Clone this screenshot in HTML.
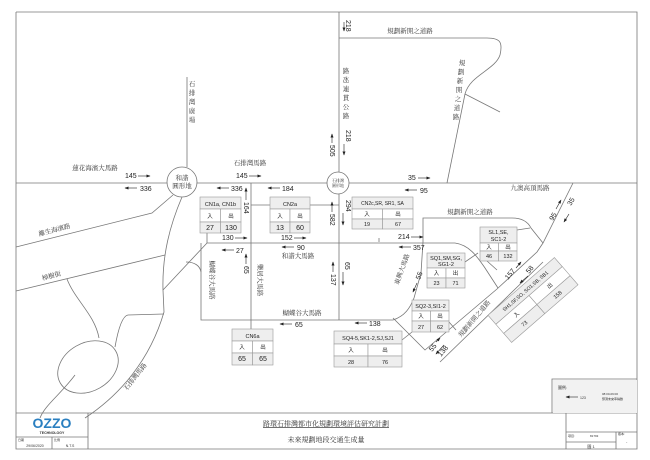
<!DOCTYPE html>
<html><head><meta charset="utf-8"><style>
body{margin:0;background:#fff;}
svg{display:block;font-family:"Liberation Sans","Noto Sans CJK TC",sans-serif;}
.r{stroke:#777;stroke-width:0.8;fill:none;}
.t{stroke:#999;stroke-width:0.6;fill:#fff;}
.h{fill:#eee;stroke:#999;stroke-width:0.6;}
.n{font-size:7px;fill:#222;}
.c{font-family:"Liberation Serif","Noto Serif CJK SC",serif;font-size:6.5px;fill:#333;}
.s{font-size:5.5px;fill:#222;}
.a{stroke:#222;stroke-width:0.6;marker-end:url(#ah);}
</style></head><body>
<svg width="650" height="460" viewBox="0 0 650 460">
<defs><marker id="ah" markerWidth="4" markerHeight="4" refX="3.5" refY="2" orient="auto" markerUnits="userSpaceOnUse"><path d="M0,0.5 L4,2 L0,3.5z" fill="#222"/></marker></defs>
<rect width="650" height="460" fill="#fff"/>
<!-- frame -->
<path class="r" d="M16,12 H637 V413 M16,12 V449 H637 V413 M16,413 H637" stroke="#888"/>
<!-- roads -->
<path class="r" d="M16,183 H167 M197,183 H327 M349,183 H637"/>
<circle class="r" cx="182" cy="182" r="15"/>
<circle class="r" cx="338" cy="183" r="11"/>
<path class="r" d="M187,77 V167"/>
<path class="r" d="M339,12 V172 M339,38 H487 C500,38 503,42 500,55 C495,70 470,75 465,94 L447,183 M465,94 L500,112"/>
<path class="r" d="M173,195 L152,213 L16,247"/>
<path class="r" d="M16,291 L165,255"/>
<path class="r" d="M182,197 C170,225 162,255 163,290 L164,312 C150,360 120,395 85,418"/>
<path class="r" d="M163,290 L207,243 H455"/>
<path class="r" d="M186,262 C195,262 200,266 201,272"/>
<path class="r" d="M201,243 V320 H393 C405,316 410,308 414,298 L421,273 L423,242 V218 H512 C522,218 528,222 531,228 L543,243"/>
<path class="r" d="M251,183 V330 M339,194 V320"/>
<path class="r" d="M207,243 V233 M251,205 H270 M310,205 H339"/>
<path class="r" d="M455,243 C470,245 478,258 485,268 L498,288"/>
<path class="r" d="M573,183 L543,243 L537,252 L497,289 L425,350 L393,318"/>
<path class="r" d="M543,262 L440,362"/>
<path class="r" d="M465,262 L478,253 M487,261 L497,270 M517,230 L530,228 M402,340 L412,332 M449,322 L456,330 M379,242 V238"/>
<path class="r" d="M67,279 C75,300 95,315 99,338 M115,347 C118,330 122,316 128,315 L164,314 M75,375 C60,395 45,405 40,418"/>
<ellipse class="r" cx="88" cy="367" rx="32" ry="24" transform="rotate(-30 88 367)"/>
<path class="r" d="M552,413 V379 H637"/>
<rect x="553" y="380" width="84" height="33" fill="#f2f2f2"/>
<!-- title block -->
<path class="r" d="M88,413 V449 M16,437 H88 M52,437 V449 M566,413 V449 M566,432 H637 M616,432 V449 M566,442 H616" stroke="#888"/>
<text x="52" y="428" text-anchor="middle" font-size="14" font-weight="bold" fill="#2a7fc0">OZZO</text>
<text x="52" y="434" text-anchor="middle" font-size="3.5" font-weight="bold" fill="#333">TECHNOLOGY</text>
<text x="18" y="441" font-size="3" fill="#333">日期</text><text x="54" y="441" font-size="3" fill="#333">比例</text>
<text x="35" y="447" text-anchor="middle" font-size="3.5" fill="#333">29/06/2020</text>
<text x="70" y="447" text-anchor="middle" font-size="3.5" fill="#333">N.T.S</text>
<text x="326" y="426" text-anchor="middle" class="c" style="font-size:7px;text-decoration:underline">路環石排灣都市化規劃環境評估研究計劃</text>
<text x="326" y="442" text-anchor="middle" class="c" style="font-size:7px">未來規劃地段交通生成量</text>
<text x="568" y="437" font-size="3" fill="#333">項目:</text><text x="590" y="437" font-size="3" fill="#333">81793</text>
<text x="618" y="435" font-size="3" fill="#333">版本:</text><text x="626" y="443" font-size="4" fill="#333">-</text>
<text x="591" y="448" text-anchor="middle" font-size="4" fill="#333">圖 1</text>
<text x="558" y="389" font-size="4" fill="#333">圖例:</text>
<line x1="578" y1="397" x2="566" y2="397" class="a"/><text x="580" y="399" font-size="3.5" fill="#333">123</text>
<text x="602" y="395" font-size="3" fill="#333">08:00-09:00</text><text x="602" y="400" font-size="3" fill="#333">預測未來車輛數</text>
<!-- road labels -->
<text x="95" y="170" text-anchor="middle" class="c">蓮花海濱大馬路</text>
<text x="250" y="165" text-anchor="middle" class="c">石排灣馬路</text>
<text x="55" y="232" text-anchor="middle" class="c" transform="rotate(-15 55 232)">離生海濱路</text>
<text x="52" y="278" text-anchor="middle" class="c" transform="rotate(-15 52 278)">樟樹街</text>
<text x="137" y="378" text-anchor="middle" class="c" transform="rotate(-52 137 378)">石排灣馬路</text>
<text x="298" y="258" text-anchor="middle" class="c">和諧大馬路</text>
<text x="302" y="315" text-anchor="middle" class="c">蝴蝶谷大馬路</text>
<text x="210" y="280" text-anchor="middle" class="c" transform="rotate(90 210 280)">蝴蝶谷大馬路</text>
<text x="258" y="280" text-anchor="middle" class="c" transform="rotate(90 258 280)">樂居大馬路</text>
<text x="410" y="33" text-anchor="middle" class="c">規劃新開之道路</text>
<text x="530" y="190" text-anchor="middle" class="c">九澳高頂馬路</text>
<text x="470" y="214" text-anchor="middle" class="c">規劃新開之道路</text>
<text x="404" y="270" text-anchor="middle" class="c" transform="rotate(-70 404 270)">東興大馬路</text>
<text x="476" y="320" text-anchor="middle" class="c" transform="rotate(-50 476 320)">規劃新開之道路</text>
<g class="c" text-anchor="middle">
<text x="192" y="86">石</text><text x="192" y="95">排</text><text x="192" y="104">灣</text><text x="192" y="113">廣</text><text x="192" y="122">場</text>
<text x="346" y="73">路</text><text x="346" y="82">氹</text><text x="346" y="91">連</text><text x="346" y="100">貫</text><text x="346" y="109">公</text><text x="346" y="118">路</text>
<text x="462" y="65">規</text><text x="461" y="74">劃</text><text x="460" y="83">新</text><text x="459" y="92">開</text><text x="458" y="101">之</text><text x="457" y="110">道</text><text x="456" y="119">路</text>
</g>
<text x="182" y="180" text-anchor="middle" class="c">和諧</text>
<text x="182" y="188" text-anchor="middle" class="c">圓形地</text>
<text x="338" y="182" text-anchor="middle" class="c" style="font-size:4px">石排灣</text>
<text x="338" y="187" text-anchor="middle" class="c" style="font-size:4px">圓形地</text>
<!-- flows -->
<g class="n">
<text x="125" y="178">145</text><line class="a" x1="138" y1="176" x2="150" y2="176"/>
<line class="a" x1="137" y1="188" x2="125" y2="188"/><text x="140" y="191">336</text>
<text x="236" y="178">145</text><line class="a" x1="249" y1="176" x2="261" y2="176"/>
<line class="a" x1="229" y1="188" x2="217" y2="188"/><text x="231" y="191">336</text>
<line class="a" x1="280" y1="188" x2="268" y2="188"/><text x="282" y="191">184</text>
<text x="222" y="240">130</text><line class="a" x1="235" y1="238" x2="247" y2="238"/>
<line class="a" x1="234" y1="250" x2="222" y2="250"/><text x="236" y="253">27</text>
<text x="281" y="240">152</text><line class="a" x1="294" y1="238" x2="306" y2="238"/>
<line class="a" x1="294" y1="247" x2="282" y2="247"/><text x="297" y="250">90</text>
<line class="a" x1="292" y1="324" x2="280" y2="324"/><text x="295" y="327">65</text>
<text x="398" y="239">214</text><line class="a" x1="411" y1="237" x2="423" y2="237"/>
<line class="a" x1="411" y1="247" x2="399" y2="247"/><text x="413" y="250">357</text>
<text x="408" y="180">35</text><line class="a" x1="418" y1="178" x2="430" y2="178"/>
<line class="a" x1="417" y1="190" x2="405" y2="190"/><text x="420" y="193">95</text>
<line class="a" x1="367" y1="323" x2="355" y2="323"/><text x="369" y="326">138</text>
<line class="a" x1="246" y1="200" x2="246" y2="188"/><text transform="translate(244,202) rotate(90)">164</text>
<line class="a" x1="246" y1="264" x2="246" y2="254"/><text transform="translate(244,266) rotate(90)">65</text>
<line class="a" x1="344" y1="22" x2="344" y2="31"/><text transform="translate(346,20) rotate(90)">218</text>
<text transform="translate(346,130) rotate(90)">218</text><line class="a" x1="344" y1="144" x2="344" y2="155"/>
<line class="a" x1="332" y1="143" x2="332" y2="134"/><text transform="translate(330,145) rotate(90)">505</text>
<text transform="translate(346,200) rotate(90)">294</text><line class="a" x1="343" y1="213" x2="343" y2="225"/>
<line class="a" x1="332" y1="212" x2="332" y2="202"/><text transform="translate(330,214) rotate(90)">582</text>
<text transform="translate(345,262) rotate(90)">65</text><line class="a" x1="343" y1="272" x2="343" y2="285"/>
<line class="a" x1="333" y1="272" x2="333" y2="262"/><text transform="translate(331,274) rotate(90)">137</text>
<text transform="translate(420,280) rotate(-70)">55</text><line class="a" x1="417" y1="283" x2="413" y2="292"/>
<text transform="translate(432,352) rotate(-50)">55</text><line class="a" x1="436" y1="342" x2="440" y2="338"/>
<text transform="translate(441,357) rotate(-50)">138</text><line class="a" x1="444" y1="345" x2="436" y2="354"/>
<text transform="translate(508,280) rotate(-50)">157</text><line class="a" x1="516" y1="268" x2="521" y2="262"/>
<line class="a" x1="528" y1="276" x2="520" y2="283"/><text transform="translate(529,274) rotate(-50)">58</text>
<text transform="translate(553,221) rotate(-60)">95</text><line class="a" x1="556" y1="209" x2="561" y2="200"/>
<text transform="translate(571,206) rotate(-60)">35</text><line class="a" x1="569" y1="214" x2="564" y2="222"/>
</g>
<!-- tables -->
<g>
<rect class="h" x="200" y="197" width="41" height="12"/><text x="220.5" y="206" text-anchor="middle" class="s">CN1a, CN1b</text>
<rect class="t" x="200" y="209" width="20.5" height="13"/><rect class="t" x="220.5" y="209" width="20.5" height="13"/>
<rect class="h" x="200" y="222" width="20.5" height="11"/><rect class="h" x="220.5" y="222" width="20.5" height="11"/>
<text x="210" y="218" text-anchor="middle" class="s">入</text><text x="231" y="218" text-anchor="middle" class="s">出</text>
<text x="210" y="230" text-anchor="middle" class="n">27</text><text x="231" y="230" text-anchor="middle" class="n">130</text>

<rect class="h" x="270" y="197" width="40" height="12"/><text x="290" y="206" text-anchor="middle" class="s">CN2a</text>
<rect class="t" x="270" y="209" width="20" height="13"/><rect class="t" x="290" y="209" width="20" height="13"/>
<rect class="h" x="270" y="222" width="20" height="11"/><rect class="h" x="290" y="222" width="20" height="11"/>
<text x="280" y="218" text-anchor="middle" class="s">入</text><text x="300" y="218" text-anchor="middle" class="s">出</text>
<text x="280" y="230" text-anchor="middle" class="n">13</text><text x="300" y="230" text-anchor="middle" class="n">60</text>

<rect class="h" x="352" y="197" width="61" height="12"/><text x="382.5" y="205" text-anchor="middle" class="s" style="font-size:5px">CN2c,SR, SR1, SA</text>
<rect class="t" x="352" y="209" width="30.5" height="10"/><rect class="t" x="382.5" y="209" width="30.5" height="10"/>
<rect class="h" x="352" y="219" width="30.5" height="10"/><rect class="h" x="382.5" y="219" width="30.5" height="10"/>
<text x="367" y="216" text-anchor="middle" class="s">入</text><text x="398" y="216" text-anchor="middle" class="s">出</text>
<text x="367" y="226" text-anchor="middle" class="s">19</text><text x="398" y="226" text-anchor="middle" class="s">67</text>

<rect class="h" x="480" y="227" width="37" height="16"/><text x="498.5" y="234" text-anchor="middle" class="s">SL1,SE,</text><text x="498.5" y="241" text-anchor="middle" class="s">SC1-2</text>
<rect class="t" x="480" y="243" width="18.5" height="8"/><rect class="t" x="498.5" y="243" width="18.5" height="8"/>
<rect class="h" x="480" y="251" width="18.5" height="10"/><rect class="h" x="498.5" y="251" width="18.5" height="10"/>
<text x="489" y="249" text-anchor="middle" class="s">入</text><text x="508" y="249" text-anchor="middle" class="s">出</text>
<text x="489" y="258" text-anchor="middle" class="s">46</text><text x="508" y="258" text-anchor="middle" class="s">132</text>

<rect class="h" x="427" y="253" width="38" height="15"/><text x="446" y="260" text-anchor="middle" class="s">SQ1,SM,SG,</text><text x="446" y="266" text-anchor="middle" class="s">SG1-2</text>
<rect class="t" x="427" y="268" width="19" height="10"/><rect class="t" x="446" y="268" width="19" height="10"/>
<rect class="h" x="427" y="278" width="19" height="10"/><rect class="h" x="446" y="278" width="19" height="10"/>
<text x="436.5" y="275" text-anchor="middle" class="s">入</text><text x="455.5" y="275" text-anchor="middle" class="s">出</text>
<text x="436.5" y="285" text-anchor="middle" class="s">23</text><text x="455.5" y="285" text-anchor="middle" class="s">71</text>

<rect class="h" x="412" y="300" width="37" height="11"/><text x="430.5" y="308" text-anchor="middle" class="s">SQ2-3,SI1-2</text>
<rect class="t" x="412" y="311" width="18.5" height="10"/><rect class="t" x="430.5" y="311" width="18.5" height="10"/>
<rect class="h" x="412" y="321" width="18.5" height="11"/><rect class="h" x="430.5" y="321" width="18.5" height="11"/>
<text x="421" y="318" text-anchor="middle" class="s">入</text><text x="440" y="318" text-anchor="middle" class="s">出</text>
<text x="421" y="329" text-anchor="middle" class="s">27</text><text x="440" y="329" text-anchor="middle" class="s">62</text>

<rect class="h" x="334" y="331" width="68" height="13"/><text x="368" y="340" text-anchor="middle" class="s">SQ4-5,SK1-2,SJ,SJ1</text>
<rect class="t" x="334" y="344" width="34" height="12"/><rect class="t" x="368" y="344" width="34" height="12"/>
<rect class="h" x="334" y="356" width="34" height="11"/><rect class="h" x="368" y="356" width="34" height="11"/>
<text x="351" y="352" text-anchor="middle" class="s">入</text><text x="385" y="352" text-anchor="middle" class="s">出</text>
<text x="351" y="364" text-anchor="middle" class="s">28</text><text x="385" y="364" text-anchor="middle" class="s">76</text>

<rect class="h" x="232" y="329" width="41" height="12"/><text x="252.5" y="338" text-anchor="middle" class="s">CN6a</text>
<rect class="t" x="232" y="341" width="20.5" height="12"/><rect class="t" x="252.5" y="341" width="20.5" height="12"/>
<rect class="h" x="232" y="353" width="20.5" height="12"/><rect class="h" x="252.5" y="353" width="20.5" height="12"/>
<text x="242" y="349" text-anchor="middle" class="s">入</text><text x="263" y="349" text-anchor="middle" class="s">出</text>
<text x="242" y="361" text-anchor="middle" class="n">65</text><text x="263" y="361" text-anchor="middle" class="n">65</text>

<g transform="translate(533,300) rotate(-41)">
<rect class="h" x="-44" y="-18" width="88" height="12"/>
<rect class="t" x="-44" y="-6" width="44" height="12"/><rect class="t" x="0" y="-6" width="44" height="12"/>
<rect class="h" x="-44" y="6" width="44" height="12"/><rect class="h" x="0" y="6" width="44" height="12"/>
<text x="0" y="-10" text-anchor="middle" class="s" style="font-size:5px">SH1,SF,SO, SO1,SB, SB1</text>
<text x="-22" y="2" text-anchor="middle" class="s">入</text><text x="22" y="2" text-anchor="middle" class="s">出</text>
<text x="-22" y="14" text-anchor="middle" class="s">73</text><text x="22" y="14" text-anchor="middle" class="s">158</text>
</g>
</g>
</svg>
</body></html>
